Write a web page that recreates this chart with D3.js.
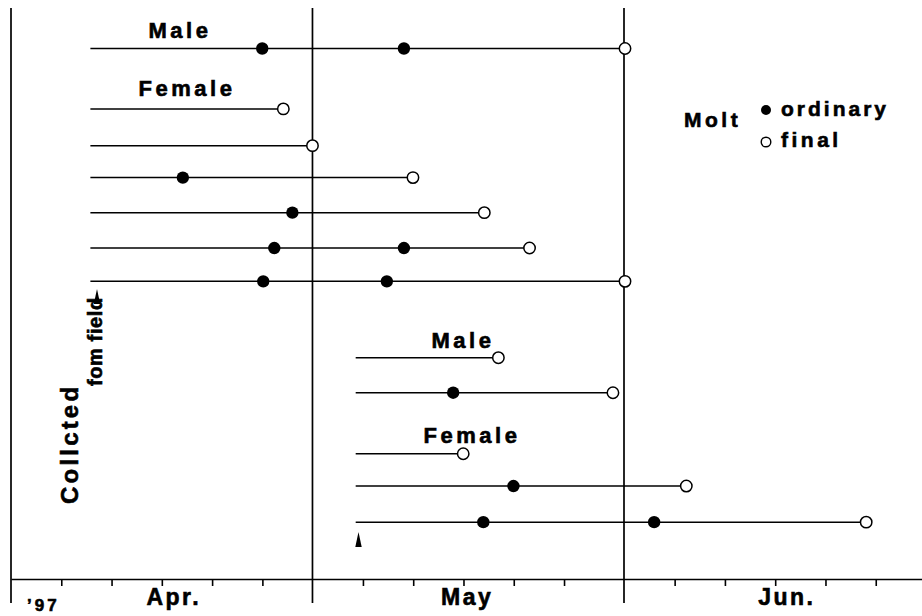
<!DOCTYPE html>
<html>
<head>
<meta charset="utf-8">
<script src="https://cdn.jsdelivr.net/npm/d3@7"></script>
<style>
  html, body { margin: 0; padding: 0; background: #fff; }
  svg text { font-family: "Liberation Sans", Arial, Helvetica, sans-serif; font-weight: bold; fill: #000;
             stroke: #000; stroke-width: 0.6px; }
</style>
</head>
<body>
<div id="chart"></div>
<script>
// days counted from Apr 1 ('97)
var rowSlots   = [0, 1.74, 2.8, 3.72, 4.73, 5.75, 6.71, 8.91, 9.92, 11.68, 12.61, 13.65]
var startDays  = [7.9, 7.9, 7.9, 7.9, 7.9, 7.9, 7.9, 34.3, 34.3, 34.3, 34.3, 34.3]
var molt1Days  = [25.0, null, null, 17.1, 28.0, 26.2, 25.1, null, 44.0, null, 50.0, 47.0]
var molt2Days  = [39.1, null, null, null, null, 39.1, 37.4, null, null, null, null, 64.0]
var finalDays  = [61.1, 27.1, 30.0, 40.0, 47.1, 51.6, 61.1, 48.5, 59.9, 45.0, 67.2, 85.1]

var minorTicks  = [5, 10, 15, 20, 25, 35, 40, 45, 50, 55, 66, 71, 76, 81, 86]
var monthStarts = [0, 30, 61]
var monthNames  = ["Apr.", "May", "Jun."]
var monthMids   = [16.2, 45.4, 77.2]

var width = 922, height = 616
var axisY = 579

var svg = d3.select("#chart").append("svg")
  .attr("width", width).attr("height", height)

var x = d3.scaleLinear().domain([0, 61]).range([11, 624])
var y = d3.scaleLinear().domain([0, 1]).range([48.5, 83.2])

// build rows
var rows = rowSlots.map(function(s, i) {
  return { slot: s, start: startDays[i], final: finalDays[i],
           molts: [molt1Days[i], molt2Days[i]].filter(function(d) { return d != null }) }
})

// month boundary lines
svg.selectAll(".month-line")
  .data(monthStarts)
  .enter().append("line")
  .attr("class", "month-line")
  .attr("x1", function(d) { return x(d) }).attr("x2", function(d) { return x(d) })
  .attr("y1", 8).attr("y2", 603)
  .attr("stroke", "#000").attr("stroke-width", 1.7)

// x axis with 5-day ticks
var axis = svg.append("g")
  .attr("transform", "translate(0," + axisY + ")")
  .call(d3.axisBottom(x.copy().domain([0, 90.6]).range([11, 922]))
    .tickValues(minorTicks).tickSize(7).tickSizeOuter(0).tickFormat(""))
axis.select(".domain").attr("stroke", "#000").attr("stroke-width", 1.7)
axis.selectAll(".tick line").attr("stroke", "#000").attr("stroke-width", 1.6)

svg.selectAll(".month-label")
  .data(monthNames)
  .enter().append("text")
  .attr("class", "month-label")
  .attr("x", function(d, i) { return x(monthMids[i]) })
  .attr("y", 605)
  .attr("text-anchor", "middle")
  .attr("font-size", 23)
  .attr("letter-spacing", 2.5)
  .text(function(d) { return d })

svg.append("text")
  .attr("x", 27).attr("y", 611)
  .attr("font-size", 17).attr("letter-spacing", 3)
  .text("’97")

// molting periods
svg.selectAll(".period")
  .data(rows)
  .enter().append("line")
  .attr("class", "period")
  .attr("x1", function(d) { return x(d.start) })
  .attr("x2", function(d) { return x(d.final) })
  .attr("y1", function(d) { return y(d.slot) })
  .attr("y2", function(d) { return y(d.slot) })
  .attr("stroke", "#000").attr("stroke-width", 1.5)

var moltPts = []
rows.forEach(function(r) {
  r.molts.forEach(function(m) { moltPts.push({ day: m, slot: r.slot }) })
})

svg.selectAll(".molt")
  .data(moltPts)
  .enter().append("circle")
  .attr("class", "molt")
  .attr("cx", function(d) { return x(d.day) })
  .attr("cy", function(d) { return y(d.slot) })
  .attr("r", 6.2)
  .attr("fill", "#000")

svg.selectAll(".final")
  .data(rows)
  .enter().append("circle")
  .attr("class", "final")
  .attr("cx", function(d) { return x(d.final) })
  .attr("cy", function(d) { return y(d.slot) })
  .attr("r", 5.7)
  .attr("fill", "#fff").attr("stroke", "#000").attr("stroke-width", 1.5)

// group labels
var groupLabels = [
  { text: "Male",   cx: 180, by: 38 },
  { text: "Female", cx: 187, by: 96 },
  { text: "Male",   cx: 463, by: 348 },
  { text: "Female", cx: 472, by: 443 }
]
svg.selectAll(".group-label")
  .data(groupLabels)
  .enter().append("text")
  .attr("class", "group-label")
  .attr("x", function(d) { return d.cx })
  .attr("y", function(d) { return d.by })
  .attr("text-anchor", "middle")
  .attr("font-size", 22)
  .attr("letter-spacing", 3.5)
  .text(function(d) { return d.text })

// legend
svg.append("text").attr("x", 684).attr("y", 127)
  .attr("font-size", 21).attr("letter-spacing", 3.5).text("Molt")
svg.append("circle").attr("cx", 766).attr("cy", 110).attr("r", 5).attr("fill", "#000")
svg.append("circle").attr("cx", 766).attr("cy", 142).attr("r", 4.8)
  .attr("fill", "#fff").attr("stroke", "#000").attr("stroke-width", 1.4)
svg.append("text").attr("x", 781).attr("y", 116)
  .attr("font-size", 21).attr("letter-spacing", 3).text("ordinary")
svg.append("text").attr("x", 781).attr("y", 147)
  .attr("font-size", 21).attr("letter-spacing", 3.5).text("final")

// collected-from-field note and arrows
svg.append("text")
  .attr("transform", "translate(78,504) rotate(-90)")
  .attr("font-size", 24).attr("letter-spacing", 3.2)
  .text("Collcted")
svg.append("text")
  .attr("transform", "translate(102,386) rotate(-90)")
  .attr("font-size", 20).attr("letter-spacing", 0.6)
  .text("fom field")

var arrows = [[97, 289], [358.5, 532]]
svg.selectAll(".arrow")
  .data(arrows)
  .enter().append("path")
  .attr("class", "arrow")
  .attr("d", function(d) {
    return "M" + d[0] + "," + d[1] + "L" + (d[0] + 3.2) + "," + (d[1] + 15) + "L" + (d[0] - 3.2) + "," + (d[1] + 15) + "Z"
  })
  .attr("fill", "#000")
</script>
</body>
</html>
